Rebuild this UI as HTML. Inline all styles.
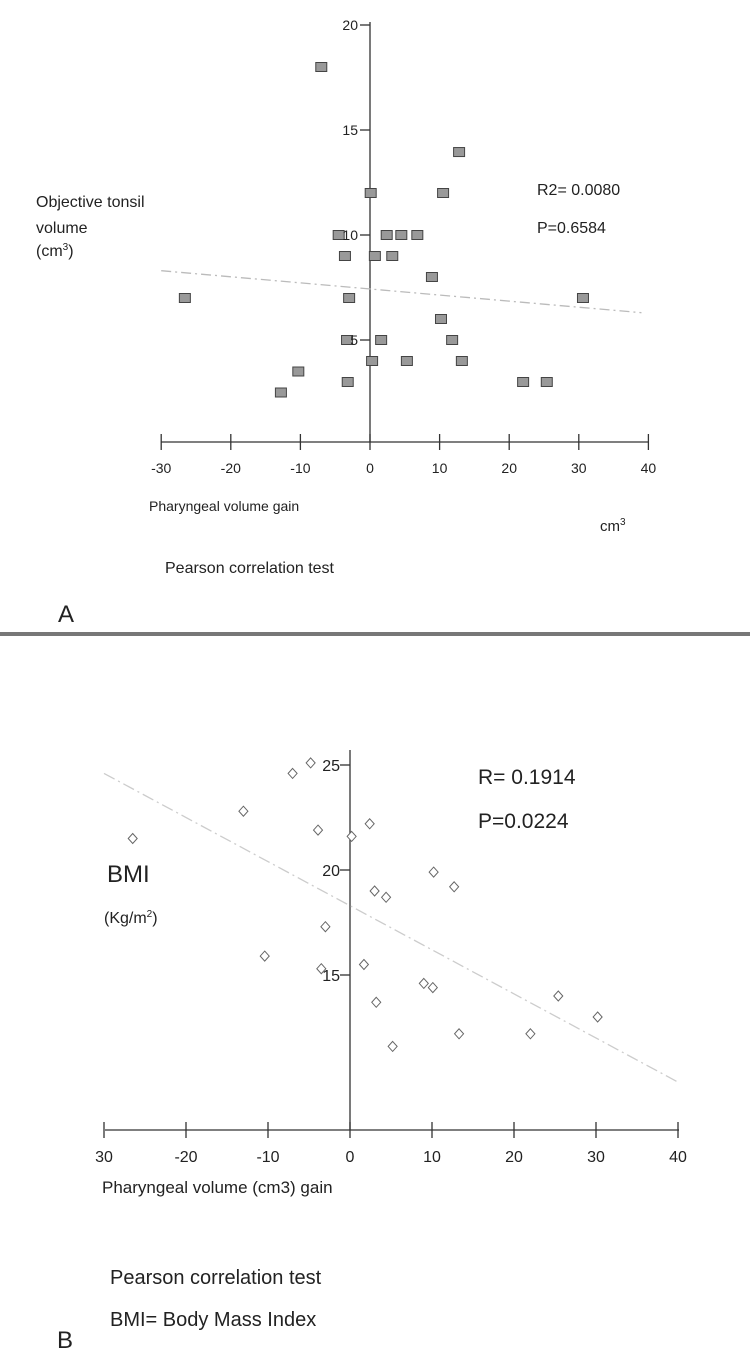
<!DOCTYPE html>
<html><head><meta charset="utf-8">
<style>
body{margin:0;background:#fff;}
svg{display:block;font-family:"Liberation Sans",sans-serif;}
</style></head>
<body>
<svg id="c" width="750" height="1350" viewBox="0 0 750 1350"></svg>
<script>
const aX=[-7,12.8,0.1,10.5,-4.5,2.4,4.5,6.8,-3.6,0.7,3.2,8.9,-26.6,-3,30.6,10.2,-3.3,1.6,11.8,0.3,5.3,13.2,-10.3,-3.2,22,25.4,-12.8];
const aY=[18,13.95,12,12,10,10,10,10,9,9,9,8,7,7,7,6,5,5,5,4,4,4,3.5,3,3,3,2.5];
const aTrend=[[-30,8.3],[39,6.3]];
const bX=[-4.8,-7,-13,-3.9,2.4,0.2,-26.5,3,4.4,10.2,12.7,-3,-10.4,-3.5,1.7,9,10.1,3.2,25.4,30.2,13.3,22,5.2];
const bY=[25.1,24.6,22.8,21.9,22.2,21.6,21.5,19,18.7,19.9,19.2,17.3,15.9,15.3,15.5,14.6,14.4,13.7,14,13,12.2,12.2,11.6];
const bTrend=[[-30,24.6],[40,9.9]];
const xTicks=[-30,-20,-10,0,10,20,30,40];
const aYTicks=[5,10,15,20];
const bYTicks=[15,20,25];

const svg=document.getElementById('c');
const NS='http://www.w3.org/2000/svg';
function mk(t,a,p){const e=document.createElementNS(NS,t);for(const k in a)e.setAttribute(k,a[k]);(p||svg).appendChild(e);return e;}
function txt(x,y,s,size,extra){const e=mk('text',Object.assign({x:x,y:y,'font-size':size,fill:'#222'},extra||{}));e.textContent=s;return e;}

// Panel A scales
const ax=v=>370+v*6.96, ay=v=>445-v*21;
const gA=mk('g',{});


mk('line',{x1:161,y1:442,x2:648,y2:442,stroke:'#333','stroke-width':1.3},gA);
mk('line',{x1:370,y1:22,x2:370,y2:442,stroke:'#333','stroke-width':1.3},gA);
xTicks.forEach(t=>{mk('line',{x1:ax(t),y1:434,x2:ax(t),y2:450,stroke:'#333','stroke-width':1.3},gA);
 const e=txt(ax(t),473,String(t),14,{'text-anchor':'middle'});});
aYTicks.forEach(t=>{mk('line',{x1:360,y1:ay(t),x2:370,y2:ay(t),stroke:'#333','stroke-width':1.3},gA);
 const e=txt(358,ay(t)+5,String(t),14,{'text-anchor':'end'});});
const ta=mk('line',{x1:ax(aTrend[0][0]),y1:ay(aTrend[0][1]),x2:ax(aTrend[1][0]),y2:ay(aTrend[1][1]),stroke:'#bbb','stroke-width':1.3,'stroke-dasharray':'10 4 2 4'},gA);

aX.forEach((v,i)=>{const r=mk('rect',{x:ax(v)-5.5,y:ay(aY[i])-4.5,width:11,height:9,fill:'#999',stroke:'#444','stroke-width':1},gA);
 });

// Panel B scales
const bx=v=>350+v*8.2, by=v=>1290-v*21;
const gB=mk('g',{});


mk('line',{x1:105,y1:1130,x2:679,y2:1130,stroke:'#333','stroke-width':1.3},gB);
mk('line',{x1:350,y1:750,x2:350,y2:1130,stroke:'#333','stroke-width':1.3},gB);
xTicks.forEach(t=>{mk('line',{x1:bx(t),y1:1122,x2:bx(t),y2:1138,stroke:'#333','stroke-width':1.3},gB);
 const e=txt(bx(t),1162,t===-30?'30':String(t),16,{'text-anchor':'middle'});});
bYTicks.forEach(t=>{mk('line',{x1:340,y1:by(t),x2:350,y2:by(t),stroke:'#333','stroke-width':1.3},gB);
 const e=txt(340,by(t)+6,String(t),16,{'text-anchor':'end'});});
const tb=mk('line',{x1:bx(bTrend[0][0]),y1:by(bTrend[0][1]),x2:bx(bTrend[1][0]),y2:by(bTrend[1][1]),stroke:'#ccc','stroke-width':1.3,'stroke-dasharray':'12 4 2 4'},gB);

bX.forEach((v,i)=>{const cx=bx(v),cy=by(bY[i]);const p=mk('polygon',{points:`${cx},${cy-5} ${cx+4.5},${cy} ${cx},${cy+5} ${cx-4.5},${cy}`,fill:'#fff',stroke:'#666','stroke-width':1},gB);
 });

// divider
const d=mk('rect',{x:0,y:632,width:750,height:4,fill:'#777'});


// labels
const L=[
['y-axis-title-a',36,207,'Objective tonsil',16],
['y-axis-title-a',36,233,'volume',16],
['stat-r2',537,195,'R2= 0.0080',16],
['stat-p-a',537,233,'P=0.6584',16],
['x-axis-title-a',149,511,'Pharyngeal  volume gain',14],
['pearson-note-a',165,573,'Pearson correlation test',16],
['panel-label-a',58,622,'A',24],
['stat-r',478,784,'R= 0.1914',21],
['stat-p-b',478,828,'P=0.0224',21],
['y-axis-title-b',107,882,'BMI',24],
['x-axis-title-b',102,1193,'Pharyngeal  volume (cm3) gain',17],
['pearson-note-b',110,1284,'Pearson correlation test',20],
['bmi-note',110,1326,'BMI= Body Mass Index',20],
['panel-label-b',57,1348,'B',24]];
L.forEach(l=>{const e=txt(l[1],l[2],l[3],l[4]);});
let e=txt(36,256,'(cm',16);
mk('tspan',{'font-size':10,dy:-6},e).textContent='3';mk('tspan',{dy:6},e).textContent=')';
e=txt(600,531,'cm',15);
mk('tspan',{'font-size':10,dy:-6},e).textContent='3';
e=txt(104,923,'(Kg/m',16);
mk('tspan',{'font-size':10,dy:-6},e).textContent='2';mk('tspan',{dy:6},e).textContent=')';
</script>
</body></html>
